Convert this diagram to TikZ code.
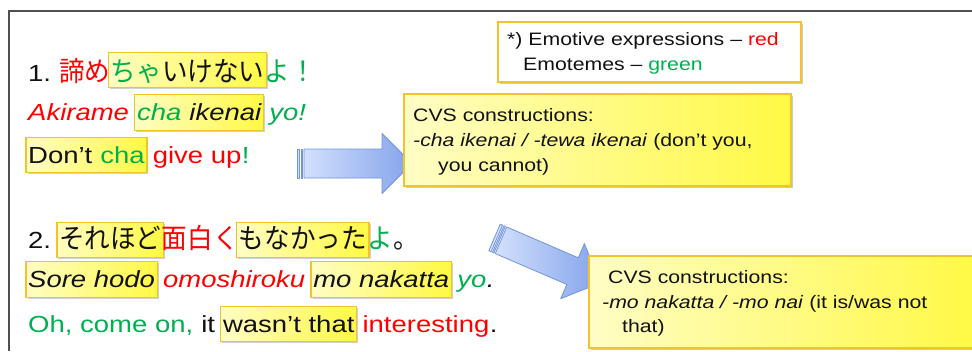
\documentclass[tikz,border=0pt]{standalone}
\usepackage{fontspec}
\setmainfont{Liberation Sans}[FakeStretch=1.18]
\newfontfamily\jp{Noto Sans CJK JP}[FakeStretch=0.93]
\usetikzlibrary{fit,backgrounds,shadows}
\definecolor{emred}{HTML}{FF0000}
\definecolor{emgreen}{HTML}{00B050}
\definecolor{txt}{HTML}{111111}
\definecolor{hlborder}{HTML}{F2C42C}
\definecolor{hlleft}{HTML}{FFFDC4}
\definecolor{hlright}{HTML}{FFF944}
\definecolor{arrleft}{HTML}{D2E0FC}
\definecolor{arrright}{HTML}{84A3EB}
\definecolor{arrborder}{HTML}{7393DA}
\definecolor{framecol}{HTML}{505050}
\begin{document}
\begin{tikzpicture}[x=1pt,y=-1pt,
  seg/.style={anchor=base west, inner sep=0pt, text height=25pt, text depth=9pt,
    font=\fontsize{23.3}{28}\selectfont, text=txt},
  itseg/.style={seg, font=\fontsize{23.3}{28}\selectfont\itshape},
  jpseg/.style={seg, font=\jp\fontsize{27.5}{28}\selectfont},
  hl/.style={draw=hlborder, line width=1.2pt, left color=hlleft, right color=hlright,
    inner xsep=2pt, inner ysep=0.5pt,
    drop shadow={shadow xshift=1.5pt, shadow yshift=-1.5pt, opacity=0.3, fill=black!60}},
  boxshadow/.style={drop shadow={shadow xshift=2pt, shadow yshift=-2pt, opacity=0.35, fill=black!60}},
  legbox/.style={draw=hlborder, line width=1.5pt, fill=white, boxshadow, inner sep=0pt},
  cvsbox/.style={draw=hlborder, line width=1.5pt, left color=hlleft, right color=hlright, boxshadow, inner sep=0pt},
  boxtxt/.style={anchor=base west, inner sep=0pt, font=\fontsize{18}{25}\selectfont, text=txt},
  arrowstyle/.style={draw=arrborder, line width=0.8pt, line join=round},
  blockarrow/.pic={
    \path[arrowstyle, fill=arrleft] (0,-14.5) rectangle (2.5,14.5);
    \path[arrowstyle, fill=arrleft] (4,-14.5) rectangle (5.5,14.5);
    \path[arrowstyle, left color=arrleft, right color=arrright]
      (7,-14.5) -- (85,-14.5) -- (85,-30) -- (115,0) -- (85,30) -- (85,14.5) -- (7,14.5) -- cycle;
  }
]
\useasboundingbox (0,0) rectangle (972,351);

% frame
\coordinate (fr1) at (972,11);
\coordinate (fr2) at (9,11);
\coordinate (fr3) at (9,351);
\draw[framecol, line width=1.6pt] (fr1) -- (fr2) -- (fr3);

% line 1
\node[seg] (l1a) at (28,81.5) {1.\ \null};
\node[jpseg, text=emred] (l1b) at (l1a.base east) {諦め};
\node[jpseg, text=emgreen] (l1c) at (l1b.base east) {ちゃ};
\node[jpseg] (l1d) at (l1c.base east) {いけない};
\node[jpseg, text=emgreen] (l1e) at (l1d.base east) {よ！};

% line 2
\node[itseg, text=emred] (l2a) at (28,120.5) {Akirame\ \null};
\node[itseg, text=emgreen] (l2b) at (l2a.base east) {cha};
\node[itseg] (l2c) at (l2b.base east) {\ ikenai};
\node[itseg, text=emgreen] (l2d) at (l2c.base east) {\ yo!};

% line 3
\node[seg] (l3a) at (28,163) {Don’t};
\node[seg, text=emgreen] (l3b) at (l3a.base east) {\ cha};
\node[seg, text=emred] (l3c) at (l3b.base east) {\ give up};
\node[seg, text=emgreen] (l3d) at (l3c.base east) {!};

% line 4
\node[seg] (l4a) at (28,248) {2.\ \null};
\node[jpseg] (l4b) at (l4a.base east) {それほど};
\node[jpseg, text=emred] (l4c) at (l4b.base east) {面白く};
\node[jpseg] (l4d) at (l4c.base east) {もなかった};
\node[jpseg, text=emgreen] (l4e) at (l4d.base east) {よ};
\node[jpseg] (l4f) at (l4e.base east) {。};

% line 5
\node[itseg] (l5a) at (28,287.5) {Sore hodo};
\node[itseg, text=emred] (l5b) at (l5a.base east) {\ omoshiroku\ \null};
\node[itseg] (l5c) at (l5b.base east) {mo nakatta};
\node[itseg, text=emgreen] (l5d) at (l5c.base east) {\ yo};
\node[itseg] (l5e) at (l5d.base east) {.};

% line 6
\node[seg, text=emgreen] (l6a) at (28,332) {Oh, come on,};
\node[seg] (l6b) at (l6a.base east) {\ it\ \null};
\node[seg] (l6c) at (l6b.base east) {wasn’t that};
\node[seg, text=emred] (l6d) at (l6c.base east) {\ interesting};
\node[seg] (l6e) at (l6d.base east) {.};

% highlights
\begin{scope}[on background layer]
  \node[hl, fit=(l1c)(l1d), yshift=3.5pt] (h1) {};
  \node[hl, fit=(l2b)(l2c)] (h2) {};
  \node[hl, fit=(l3a)(l3b)] (h3) {};
  \node[hl, fit=(l4b)] (h4) {};
  \node[hl, fit=(l4d)] (h5) {};
  \node[hl, fit=(l5a)] (h6) {};
  \node[hl, fit=(l5c)] (h7) {};
  \node[hl, fit=(l6c)] (h8) {};
\end{scope}

% legend box
\node[legbox, minimum width=303pt, minimum height=60pt, anchor=north west] (leg) at (497,21) {};
\node[boxtxt] (lega) at (507,45) {*) Emotive expressions – \textcolor{emred}{red}};
\node[boxtxt] (legb) at (523,70) {Emotemes – \textcolor{emgreen}{green}};

% arrows
\pic (ar1) at (297,163.5) {blockarrow};
\pic[rotate=-23.3] (ar2) at (494.5,237.5) {blockarrow};

% CVS box 1
\node[cvsbox, minimum width=387pt, minimum height=92pt, anchor=north west] (cvs1) at (403,93) {};
\node[boxtxt] (c1a) at (413,121.7) {CVS constructions:};
\node[boxtxt] (c1b) at (413,146.7) {\textit{-cha ikenai / -tewa ikenai} (don’t you,};
\node[boxtxt] (c1c) at (438,171.7) {you cannot)};

% CVS box 2
\node[cvsbox, minimum width=392pt, minimum height=92pt, anchor=north west] (cvs2) at (588,255) {};
\node[boxtxt] (c2a) at (608,283) {CVS constructions:};
\node[boxtxt] (c2b) at (602,308) {\textit{-mo nakatta / -mo nai} (it is/was not};
\node[boxtxt] (c2c) at (622,332) {that)};
\end{tikzpicture}
\end{document}
